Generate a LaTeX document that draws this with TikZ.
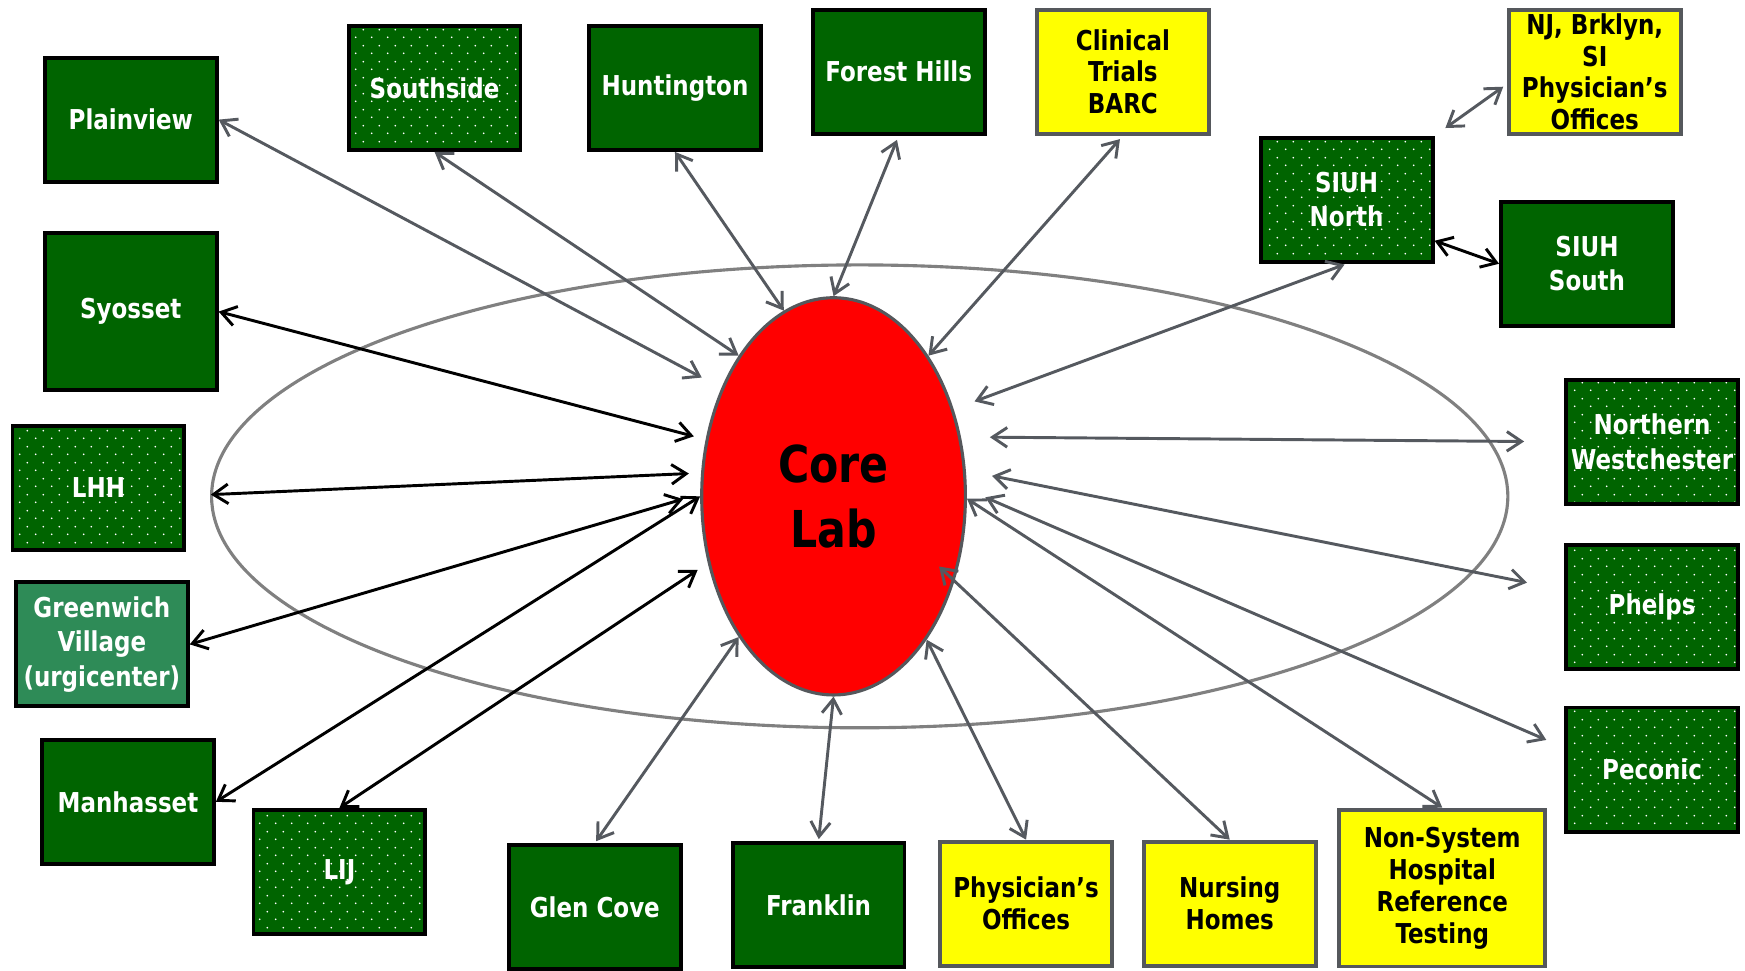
\documentclass[tikz,border=0pt]{standalone}
\usepackage{fontspec}
\setmainfont{DejaVu Sans}[FakeStretch=0.84]
\usetikzlibrary{shapes.geometric,arrows.meta,patterns.meta}

\definecolor{sitegreen}{HTML}{006400}
\definecolor{villagegreen}{HTML}{2E8B57}
\definecolor{boxyellow}{HTML}{FFFF00}
\definecolor{edgegray}{HTML}{55585C}
\definecolor{linkgray}{HTML}{55595F}
\definecolor{ringgray}{HTML}{808080}

\tikzdeclarepattern{
  name=site dots,
  type=colored,
  bottom left={(0pt,0pt)},
  top right={(8.2pt,8.2pt)},
  tile size={(8.2pt,8.2pt)},
  code={
    \fill[white] (2pt,2pt) circle[radius=0.5pt];
    \fill[white] (6.1pt,6.1pt) circle[radius=0.5pt];
  }
}

\begin{document}
\begin{tikzpicture}[x=0.02cm,y=-0.02cm,
    site node/.style={rectangle,draw=black,line width=2pt,fill=sitegreen,
      text=white,align=center,inner sep=1pt,
      font=\fontsize{14}{17.6}\selectfont\bfseries,
      minimum width=3.09cm,minimum height=2.23cm},
    dot node/.style={site node,preaction={fill=sitegreen},pattern=site dots},
    yellow node/.style={site node,draw=edgegray,fill=boxyellow,text=black,
      font=\fontsize{14}{16.3}\selectfont\bfseries},
    lab node/.style={ellipse,draw=edgegray,line width=1.6pt,fill=red,
      minimum width=4.74cm,minimum height=7.14cm,inner sep=0pt,align=center,
      font=\fontsize{26}{33.5}\selectfont\bfseries},
    ring/.style={draw=ringgray,line width=1.6pt},
    link/.style={<->,>={Straight Barb[length=7.5pt,width=10pt]},
      draw=linkgray,line width=1.5pt},
    dark link/.style={link,draw=black}]
	\useasboundingbox (0,0) rectangle (1568,872);

	% outer ring
	\draw[ring] (772.5,446) ellipse [x radius=11.65cm, y radius=4.16cm];

	\node[lab node] (core) at (749,446) {Core\\Lab};

	% top row
	\node[site node] (plainview) at (117.5,107.5) {Plainview};
	\node[dot node] (southside) at (390.5,79) {Southside};
	\node[site node] (huntington) at (606.5,79) {Huntington};
	\node[site node] (foresthills) at (807.5,64.5) {Forest Hills};
	\node[yellow node] (barc) at (1009,64.5) {Clinical\\Trials\\BARC};
	\node[yellow node] (njsi) at (1433,64.5) {NJ, Brklyn,\\SI\\Physician’s\\Offices};
	\node[dot node] (siuhn) at (1210,179.5) {SIUH\\North};
	\node[site node] (siuhs) at (1426,237) {SIUH\\South};

	% left side
	\node[site node,minimum height=2.82cm] (syosset) at (117.5,280) {Syosset};
	\node[dot node] (lhh) at (88.5,438.5) {LHH};
	\node[site node,fill=villagegreen] (greenwich) at (91.5,579) {Greenwich\\Village\\(urgicenter)};
	\node[site node] (manhasset) at (115,720.5) {Manhasset};

	% bottom row
	\node[dot node] (lij) at (305,783.5) {LIJ};
	\node[site node] (glencove) at (534.5,815) {Glen Cove};
	\node[site node] (franklin) at (735.5,813.5) {Franklin};
	\node[yellow node] (physoff) at (922,812) {Physician’s\\Offices};
	\node[yellow node] (nursing) at (1105,812) {Nursing\\Homes};
	\node[yellow node,minimum width=3.7cm,minimum height=2.82cm] (refsys) at (1296,798) {Non-System\\Hospital\\Reference\\Testing};

	% right side
	\node[dot node] (nwest) at (1484.5,397) {Northern\\Westchester};
	\node[dot node] (phelps) at (1484.5,545.5) {Phelps};
	\node[dot node] (peconic) at (1484.5,691.5) {Peconic};

	\path[every edge/.style={link}]
	(plainview.east) edge [shorten >=0.4cm] (core.136)
	(southside.south) edge (core.124)
	(huntington.south) edge (core.105)
	(foresthills.south) edge [shorten <=0.08cm] (core.90)
	(barc.south) edge [shorten <=0.08cm] (core.56)
	(siuhn.south) edge [shorten <=0.04cm,shorten >=0.4cm] (core.36)
	(siuhn.north east) edge [shorten <=0.24cm,shorten >=0.08cm] (njsi.188)
	(nwest.west) edge [shorten <=0.72cm,shorten >=0.52cm] (core.25)
	(phelps.169) edge [shorten <=0.68cm,shorten >=0.48cm] (core.11)
	(peconic.166) edge [shorten <=0.35cm,shorten >=0.36cm] (core.3)
	(refsys.north) edge (core.-1)
	(nursing.north) edge [shorten >=-0.38cm] (core.-35)
	(physoff.north) edge (core.-57)
	(franklin.north) edge [shorten <=0.04cm] (core.-90)
	(glencove.north) edge [shorten <=0.04cm] (core.-124)
;
	\path[every edge/.style={dark link}]
	(syosset.east) edge [shorten >=0.22cm] (core.156)
	(lhh.-5) edge [shorten <=0.44cm,shorten >=0.22cm] (core.170)
	(greenwich.east) edge [shorten >=0.32cm] (core.179)
	(manhasset.east) edge (core.180)
	(lij.north) edge [shorten >=0.22cm] (core.208)
	(siuhn.-25) edge (siuhs.west)
;
\end{tikzpicture}
\end{document}
